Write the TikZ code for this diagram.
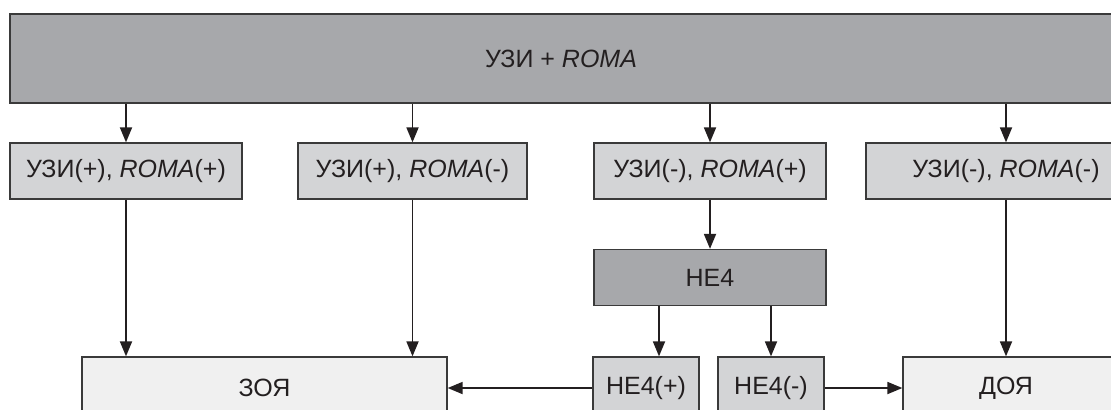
\documentclass[tikz,border=0pt]{standalone}
\usepackage{fontspec}
\setmainfont{Liberation Sans}
\usetikzlibrary{arrows.meta}
\definecolor{darkgrey}{HTML}{A7A8AB}
\definecolor{midgrey}{HTML}{D3D4D6}
\definecolor{palegrey}{HTML}{F0F0F0}
\definecolor{edge}{HTML}{3A3A3A}
\definecolor{ink}{HTML}{231F20}
\begin{document}
\begin{tikzpicture}[x=0.5pt,y=-0.5pt]

    \tikzset{
      box/.style={
        draw=edge,
        line width=0.65pt,
        inner sep=0pt,
        minimum height=28pt,
        font=\fontsize{12.5}{15}\selectfont,
        text=ink,
      },
      topbox/.style={box, fill=darkgrey},
      midbox/.style={box, fill=midgrey},
      lowbox/.style={box, fill=palegrey, minimum height=31pt},
      arr/.style={
        draw=ink,
        line width=0.9pt,
        -{Triangle[length=7.5pt,width=6pt]},
      },
    }
    \useasboundingbox (0,0) rectangle (1111,409);
    \clip (0,0) rectangle (1111,409);
	\node[topbox, minimum width=551pt, minimum height=44.5pt] (roma) at (561,58.5) {УЗИ + \textit{ROMA}};
	\node[midbox, minimum width=116pt] (pp) at (126,171) {УЗИ(+), \textit{ROMA}(+)};
	\node[midbox, minimum width=114.5pt] (pm) at (412.5,171) {УЗИ(+), \textit{ROMA}(-)};
	\node[midbox, minimum width=116pt] (mp) at (710,171) {УЗИ(-), \textit{ROMA}(+)};
	\node[midbox, minimum width=140pt] (mm) at (1006,171) {УЗИ(-), \textit{ROMA}(-)};
	\node[topbox, minimum width=116pt] (he) at (710,277.5) {HE4};
	\node[midbox, minimum width=53pt, minimum height=31pt] (hp) at (646,388) {HE4(+)};
	\node[midbox, minimum width=53pt, minimum height=31pt] (hm) at (771,388) {HE4(-)};
	\node[lowbox, minimum width=182.5pt] (zoya) at (264.5,388) {ЗОЯ};
	\node[lowbox, minimum width=123.5pt, label={[xshift=-10.25pt, font=\fontsize{12.5}{15}\selectfont, text=ink]center:ДОЯ}] (doya) at (1026.5,388) {};
	% arrows
	\draw[arr] (roma.south -| pp.north) -- (pp.north);
	\draw[arr] (roma.south -| pm.north) -- (pm.north);
	\draw[arr] (roma.south -| mp.north) -- (mp.north);
	\draw[arr] (roma.south -| mm.north) -- (mm.north);
	\draw[arr] (pp.south) -- (pp.south |- zoya.north);
	\draw[arr] (pm.south) -- (pm.south |- zoya.north);
	\draw[arr] (mp.south) -- (he.north);
	\draw[arr] (mm.south) -- (mm.south |- doya.north);
	\draw[arr] ([xshift=6.5pt]hp.north |- he.south) -- ([xshift=6.5pt]hp.north);
	\draw[arr] (hm.north |- he.south) -- (hm.north);
	\draw[arr] (hp.west) -- (zoya.east);
	\draw[arr] (hm.east) -- (doya.west);

\end{tikzpicture}
\end{document}
